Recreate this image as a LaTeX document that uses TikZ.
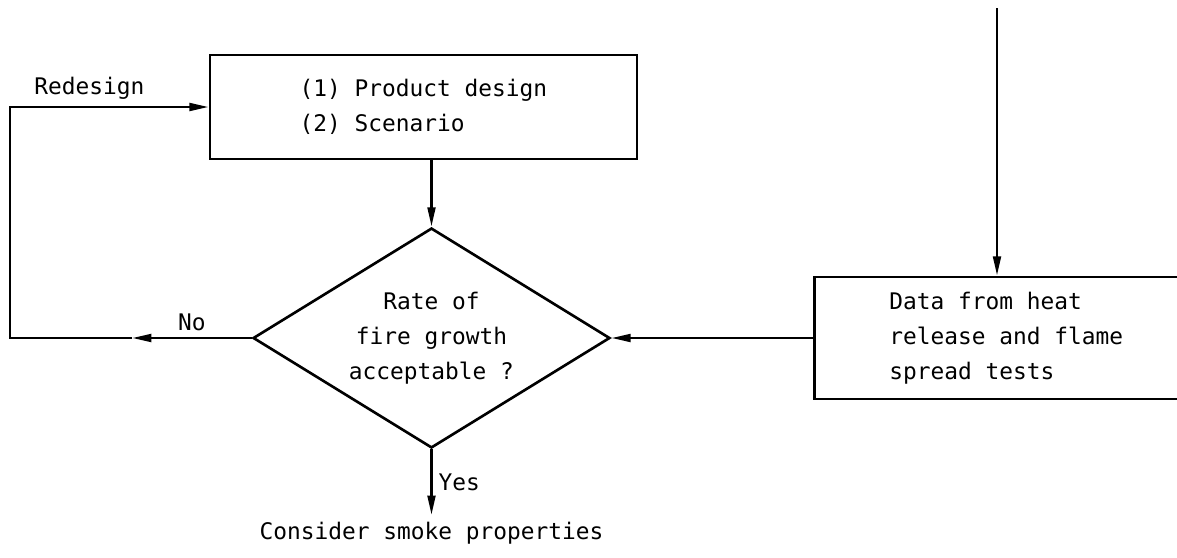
\documentclass[tikz,border=0pt]{standalone}
\usepackage{fontspec}
\setmainfont{DejaVu Sans Mono}[WordSpace={1,0,0}]
\usetikzlibrary{arrows.meta,shapes.geometric,positioning}

\tikzset{
  flow/.style={-{Triangle[length=11pt,width=4.4pt]}},
  txt/.style={font=\fontsize{13}{20}\selectfont},
  box/.style={draw, txt, align=left},
  decision/.style={draw, diamond, txt, align=center, inner sep=0pt, aspect=1.62},
}

\begin{document}
\begin{tikzpicture}[x=0.02cm, y=-0.02cm, line width=1.5pt]
  \clip (0,0) rectangle (1177,558);
  % boxes and the decision
  \node[box, minimum width=8.54cm, minimum height=2.08cm] (design) at (423.5,107) {(1) Product design\\(2) Scenario};
  \node[decision, minimum width=7.14cm, minimum height=4.4cm] (check) at (431.5,338) {Rate of\\fire growth\\acceptable ?};
  \node[box, anchor=west, inner xsep=1.5cm, minimum height=2.44cm] (data) at (813,338) {Data from heat\\release and flame\\spread tests};
  \node[txt, anchor=north] (smoke) at (431.5,515) {Consider smoke properties};
  \coordinate (feed) at (997,8);
  \coordinate (notip) at (132,338);
  \coordinate (loop) at (10,338);

  % connectors
  \draw[flow] (check.north |- design.south) -- (check.north);
  \draw[flow] (feed) -- (feed |- data.north);
  \draw[flow] (data) -- (check);
  \draw[flow] (check) -- node[txt, right] (yes) {Yes} (smoke);
  \draw[flow] (check) -- node[txt, above] (no) {No} (notip);
  \draw[flow] (notip) -- (loop) |- node[txt, pos=0.7, above] (redo) {Redesign} (design.west);
\end{tikzpicture}
\end{document}
